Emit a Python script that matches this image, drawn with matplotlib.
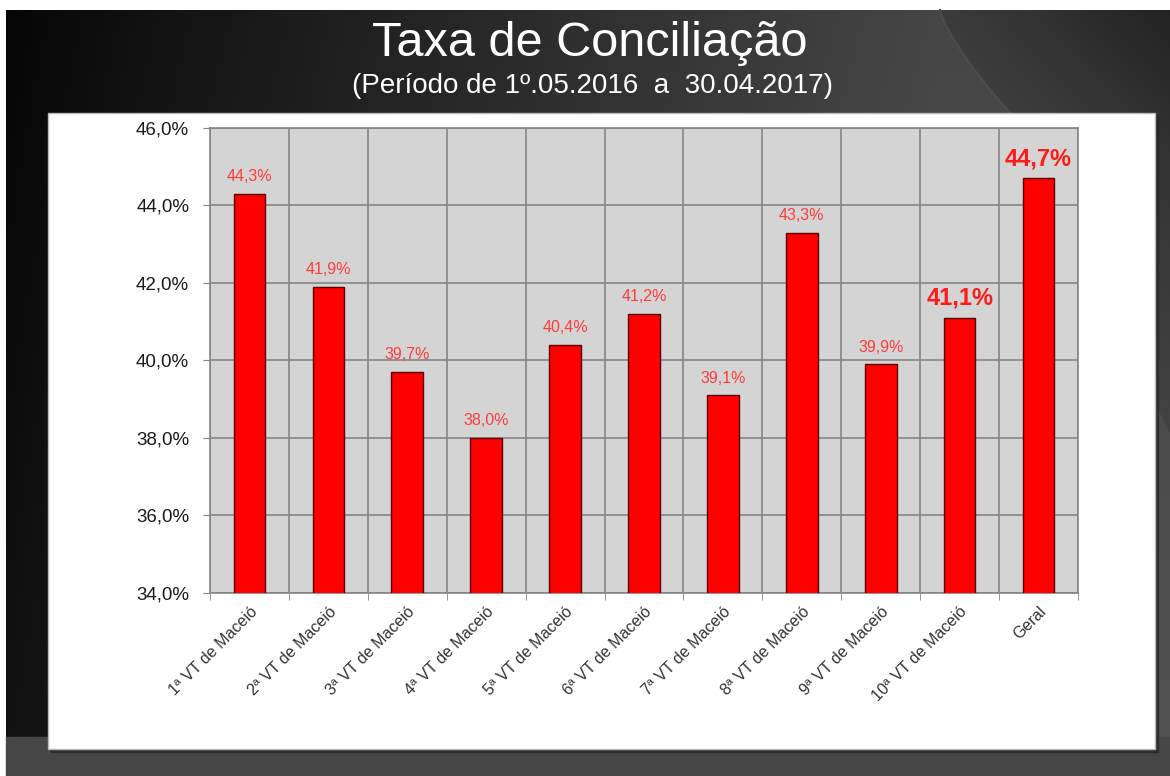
import numpy as np
import matplotlib
matplotlib.use("Agg")
import matplotlib.pyplot as plt
from matplotlib.patches import Rectangle

plt.rcParams['font.family'] = ['Liberation Sans', 'DejaVu Sans']

categories = ["1ª VT de Maceió", "2ª VT de Maceió", "3ª VT de Maceió", "4ª VT de Maceió",
              "5ª VT de Maceió", "6ª VT de Maceió", "7ª VT de Maceió", "8ª VT de Maceió",
              "9ª VT de Maceió", "10ª VT de Maceió", "Geral"]
values = [44.3, 41.9, 39.7, 38.0, 40.4, 41.2, 39.1, 43.3, 39.9, 41.1, 44.7]
value_labels = ["44,3%", "41,9%", "39,7%", "38,0%", "40,4%", "41,2%", "39,1%",
                "43,3%", "39,9%", "41,1%", "44,7%"]
emphasis = [False] * 9 + [True, True]
y_ticks = [34, 36, 38, 40, 42, 44, 46]
y_tick_labels = ["34,0%", "36,0%", "38,0%", "40,0%", "42,0%", "44,0%", "46,0%"]
title = "Taxa de Conciliação"
subtitle = "(Período de 1º.05.2016  a  30.04.2017)"

W, H = 1170, 776
fig = plt.figure(figsize=(W / 100, H / 100), dpi=100)
fig.patch.set_facecolor("white")

# background gradient
bg = fig.add_axes([0, 0, 1, 1])
bg.set_xlim(0, W)
bg.set_ylim(H, 0)
bg.axis("off")
px = np.arange(6, W) + 0.5
py = np.arange(10, H) + 0.5
PX, PY = np.meshgrid(px, py)
tt = np.clip((PY - 10) / 103, 0, 1)
bx = 940 + 70 * tt ** 1.3 + np.where(PY > 113, (PY - 113) * 0.5, 0)
v = 0.02 + 0.25 * np.clip((PX - 6) / 930, 0, 1) ** 0.9 + 0.05 * (PY / H)
fade = np.clip((PX - bx) / 230, 0, 1)
v_right = 0.235 - 0.10 * fade * (1 - PY / H) + 0.04 * (PY / H)
v = np.where(PX > bx, v_right, v)
v = np.clip(v, 0, 1)
img = np.dstack([v, v, v])
bg.imshow(img, extent=[6, W, H, 10], aspect="auto", zorder=0, interpolation="bilinear")
bg.add_patch(Rectangle((6, 737), W - 6, H - 737, color="#464646", zorder=1))
# light curved streak
t = np.linspace(0, 1, 50)
bg.plot(940 + 70 * t ** 1.3, 10 + 103 * t, color="#4c4c4c", lw=1.5, zorder=1)
# white panel with shadow
bg.add_patch(Rectangle((51, 116), 1107, 636, color="#222222", alpha=0.6, zorder=2))
bg.add_patch(Rectangle((48, 113), 1107, 636, facecolor="white", edgecolor="#bbbbbb", lw=1, zorder=3))

fig.text(590 / W, 1 - 44 / H, title, color="white", fontsize=35, ha="center", va="center")
fig.text(592 / W, 1 - 86 / H, subtitle, color="white", fontsize=20, ha="center", va="center")

ax = fig.add_axes([210 / W, 1 - 593 / H, (1078 - 210) / W, (593 - 128) / H])
ax.set_facecolor("#d4d4d4")
x = np.arange(len(categories))
ax.bar(x, values, width=0.4, bottom=0, color="#ff0000", edgecolor="#5a0000", linewidth=1, zorder=3)
ax.set_xlim(-0.5, len(categories) - 0.5)
ax.set_ylim(34, 46)
ax.set_yticks(y_ticks)
ax.set_yticklabels(y_tick_labels, fontsize=13.5, color="#1a1a1a")
ax.yaxis.grid(True, color="#858585", lw=1.2, zorder=1)
ax.set_xticks(x)
ax.set_xticklabels(categories, rotation=45, ha="right", va="top", rotation_mode="anchor",
                   fontsize=11.5, color="#333333")
ax.tick_params(axis="x", length=0, pad=8)
ax.set_xticks(np.arange(-0.5, len(categories), 1), minor=True)
ax.tick_params(axis="x", which="minor", length=5, color="#858585")
ax.xaxis.grid(True, which="minor", color="#858585", lw=1.2, zorder=1)
ax.tick_params(axis="y", length=5, color="#858585", pad=10)
for s in ax.spines.values():
    s.set_color("#858585")
    s.set_linewidth(1.2)

for xi, val, lab, emph in zip(x, values, value_labels, emphasis):
    if emph:
        ax.annotate(lab, (xi, val), xytext=(0, 6), textcoords="offset points", ha="center",
                    va="bottom", fontsize=17, fontweight="bold", color="#ff1a1a")
    else:
        ax.annotate(lab, (xi, val), xytext=(0, 7), textcoords="offset points", ha="center",
                    va="bottom", fontsize=11.5, color="#ff3b3b")

fig.savefig("out.png", dpi=100)
